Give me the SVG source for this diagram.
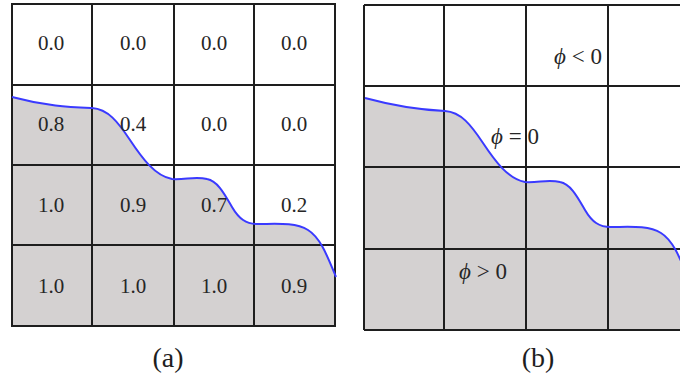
<svg xmlns="http://www.w3.org/2000/svg" width="680" height="381" viewBox="0 0 680 381">
<style>
.bg{fill:#ffffff}
.fill{fill:#d4d1d1;stroke:none}
.grid{fill:none;stroke:#1e1e1e;stroke-width:2}
.curve{fill:none;stroke:#3a3aff;stroke-width:2}
.num{font-family:"Liberation Serif","DejaVu Serif",serif;font-size:21px;fill:#262626;text-anchor:middle}
.phi{font-family:"Liberation Serif","DejaVu Serif",serif;font-size:23px;fill:#262626}
.cap{font-family:"Liberation Serif","DejaVu Serif",serif;font-size:28px;fill:#1e1e1e;text-anchor:middle}
</style>
<rect class="bg" x="0" y="0" width="680" height="381"/>

<g id="panel-a">
  <path class="fill" d="M12,97 C45,106 70,107 92,108 C108,109 118,122 130,140 S155,176 172,179 C185,180 195,176 207,179 C218,181 225,195 232,207 S246,224 258,224 C275,224 295,222 308,230 S328,258 336,277 L336,326 L12,326 Z"/>
  <g id="grid-a">
    <rect class="grid" x="12" y="4" width="323" height="322"/>
    <path class="grid" d="M92,4 V326 M174,4 V326 M254,4 V326 M12,85 H335 M12,165 H335 M12,245 H335"/>
  </g>
  <path id="curve-a" class="curve" d="M12,97 C45,106 70,107 92,108 C108,109 118,122 130,140 S155,176 172,179 C185,180 195,176 207,179 C218,181 225,195 232,207 S246,224 258,224 C275,224 295,222 308,230 S328,258 336,277"/>
  <g id="values-a">
    <text class="num" x="51" y="50">0.0</text>
    <text class="num" x="133" y="50">0.0</text>
    <text class="num" x="214" y="50">0.0</text>
    <text class="num" x="294" y="50">0.0</text>
    <text class="num" x="51" y="131">0.8</text>
    <text class="num" x="133" y="131">0.4</text>
    <text class="num" x="214" y="131">0.0</text>
    <text class="num" x="294" y="131">0.0</text>
    <text class="num" x="51" y="212">1.0</text>
    <text class="num" x="133" y="212">0.9</text>
    <text class="num" x="214" y="212">0.7</text>
    <text class="num" x="294" y="212">0.2</text>
    <text class="num" x="51" y="293">1.0</text>
    <text class="num" x="133" y="293">1.0</text>
    <text class="num" x="214" y="293">1.0</text>
    <text class="num" x="294" y="293">0.9</text>
  </g>
  <text id="caption-a" class="cap" x="168" y="367">(a)</text>
</g>

<g id="panel-b">
  <path class="fill" d="M365,98 C398,107 423,110 445,111 C461,112 471,125 483,143 S508,179 525,182 C538,183 548,179 560,182 C571,184 578,198 585,210 S599,227 611,227 C628,227 648,225 661,233 S681,261 689,280 L690,330 L364,330 Z"/>
  <g id="grid-b">
    <path class="grid" d="M364,5 V330 M444,5 V330 M526,5 V330 M608,5 V330 M364,5 H690 M364,86 H690 M364,167 H690 M364,249 H690 M364,330 H690"/>
  </g>
  <path id="curve-b" class="curve" d="M365,98 C398,107 423,110 445,111 C461,112 471,125 483,143 S508,179 525,182 C538,183 548,179 560,182 C571,184 578,198 585,210 S599,227 611,227 C628,227 648,225 661,233 S681,261 689,280"/>
  <g id="labels-b">
    <text class="phi" x="554" y="64"><tspan font-style="italic">ϕ</tspan> &lt; 0</text>
    <text class="phi" x="491" y="144"><tspan font-style="italic">ϕ</tspan> = 0</text>
    <text class="phi" x="459" y="279"><tspan font-style="italic">ϕ</tspan> &gt; 0</text>
  </g>
  <text id="caption-b" class="cap" x="538" y="367">(b)</text>
</g>
</svg>
